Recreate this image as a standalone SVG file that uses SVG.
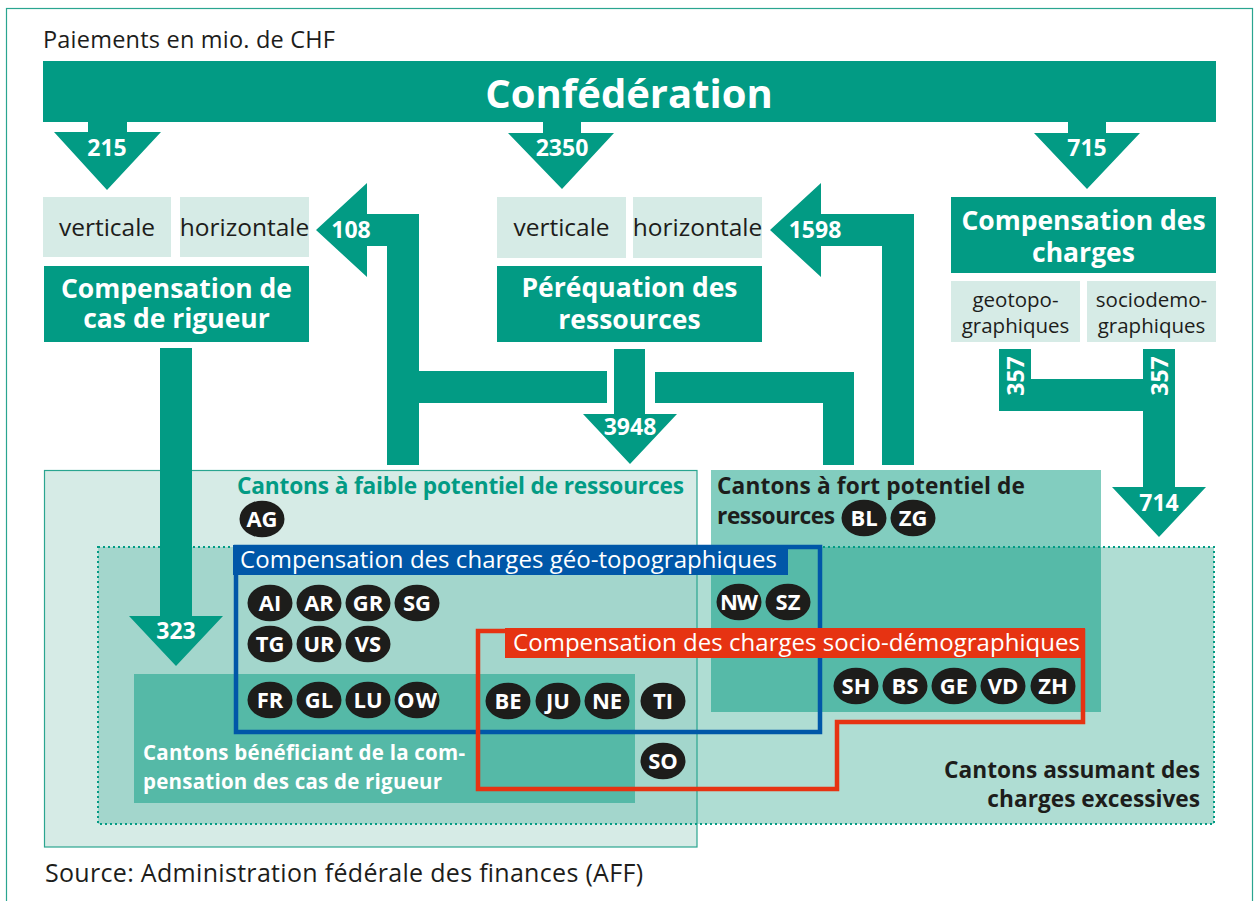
<svg xmlns="http://www.w3.org/2000/svg" width="1259" height="901" viewBox="0 0 1259 901">
<defs>
<style>
text{font-family:"Open Sans","Noto Sans","DejaVu Sans",sans-serif;}
.teal{fill:#029b84;}
.light{fill:#d6ebe6;}
.w{fill:#ffffff;}
.b{font-weight:bold;}
.dk{fill:#1d1d1b;}
.mid{text-anchor:middle;}
.num{font-weight:bold;font-size:23px;fill:#ffffff;text-anchor:middle;}
.box{font-weight:bold;font-size:26.5px;fill:#ffffff;text-anchor:middle;}
.sub{font-size:24.5px;fill:#1d1d1b;text-anchor:middle;}
.sub2{font-size:20.5px;fill:#1d1d1b;text-anchor:middle;}
.cant ellipse{fill:#1d1d1b;}
.cant text{font-weight:bold;font-size:22px;fill:#ffffff;text-anchor:middle;}
.reg{font-weight:bold;font-size:22.7px;}
</style>
</defs>
<rect x="0" y="0" width="1259" height="901" fill="#ffffff"/>
<rect x="6.5" y="8.5" width="1246" height="905" fill="none" stroke="#2aa590" stroke-width="1.2"/>
<text x="43" y="48" font-size="23.5" class="dk" textLength="292">Paiements en mio. de CHF</text>

<!-- regions -->
<g id="regions">
<rect id="faible" x="44" y="470" width="653" height="377" fill="#d6ebe6"/>
<rect id="fort" x="711" y="470" width="390" height="242" fill="#82cdbf"/>
<rect id="excessives" x="98" y="547" width="1116" height="277" fill="#afddd3"/>
<rect x="98" y="547" width="599" height="277" fill="#a3d6cc"/>
<rect x="711" y="547" width="390" height="165" fill="#56baa8"/>
<rect id="rigueur-cantons" x="134" y="674" width="501" height="129" fill="#55b9a7"/>
<rect x="44.5" y="470.5" width="652.5" height="376.5" fill="none" stroke="#2aa590" stroke-width="1.2"/>
<rect x="98" y="547" width="1116" height="277" fill="none" stroke="#029b84" stroke-width="2" stroke-dasharray="2 3"/>
<text class="reg" x="237" y="494" fill="#029b84" textLength="447">Cantons à faible potentiel de ressources</text>
<text class="reg dk" x="717" y="494" textLength="308">Cantons à fort potentiel de</text>
<text class="reg dk" x="717" y="524" textLength="118">ressources</text>
<text class="reg dk" x="1200" y="778" text-anchor="end">Cantons assumant des</text>
<text class="reg dk" x="1200" y="807" text-anchor="end">charges excessives</text>
<text x="143" y="760" font-size="20.5" font-weight="bold" fill="#ffffff" textLength="322">Cantons bénéficiant de la com-</text>
<text x="143" y="789" font-size="20.5" font-weight="bold" fill="#ffffff" textLength="299">pensation des cas de rigueur</text>
</g>

<!-- top nodes -->
<g id="confederation">
<rect class="teal" x="43" y="61" width="1173" height="61"/>
<text class="w b mid" x="629" y="108" font-size="40">Confédération</text>
</g>
<g id="cas-rigueur">
<rect class="light" x="43" y="197" width="128" height="60"/>
<text class="sub" x="107" y="236">verticale</text>
<rect class="light" x="180" y="197" width="129" height="60"/>
<text class="sub" x="244.5" y="236">horizontale</text>
<rect class="teal" x="44" y="266" width="265" height="76"/>
<text class="box" x="176.5" y="298">Compensation de</text>
<text class="box" x="176.5" y="328">cas de rigueur</text>
</g>
<g id="perequation">
<rect class="light" x="497" y="197" width="129" height="61"/>
<text class="sub" x="561.5" y="236">verticale</text>
<rect class="light" x="633" y="197" width="129" height="61"/>
<text class="sub" x="697.5" y="236">horizontale</text>
<rect class="teal" x="497" y="266" width="265" height="76"/>
<text class="box" x="629.5" y="297">Péréquation des</text>
<text class="box" x="629.5" y="329">ressources</text>
</g>
<g id="compensation-charges">
<rect class="teal" x="951" y="197" width="265" height="76"/>
<text class="box" x="1083.5" y="230">Compensation des</text>
<text class="box" x="1083.5" y="262">charges</text>
<rect class="light" x="951" y="281" width="129" height="61"/>
<text class="sub2" x="1015.5" y="307">geotopo-</text>
<text class="sub2" x="1015.5" y="333">graphiques</text>
<rect class="light" x="1087" y="281" width="129" height="61"/>
<text class="sub2" x="1151.5" y="307">sociodemo-</text>
<text class="sub2" x="1151.5" y="333">graphiques</text>
</g>

<!-- connectors -->
<g id="connectors" class="teal">
<polygon points="88,121 127,121 127,132 161,132 107,190 54,132 88,132"/>
<polygon points="543,121 581,121 581,133 614,133 562,189 508,133 543,133"/>
<polygon points="1068,121 1106,121 1106,133 1140,133 1087,189 1034,133 1068,133"/>
<polygon points="160,348 192,348 192,616 223,616 176,666 129,616 160,616"/>
<polygon points="316,230 367,183 367,214 419,214 419,371 607,371 607,403 419,403 419,465 387,465 387,246 367,246 367,277"/>
<polygon points="614,349 645,349 645,414 677,414 630,464 583,414 614,414"/>
<polygon points="655,372 854,372 854,465 823,465 823,403 655,403"/>
<polygon points="770,230 821,183 821,214 914,214 914,465 882,465 882,246 821,246 821,277"/>
<polygon points="999,349 1031,349 1031,379 1143,379 1143,349 1175,349 1175,487 1206,487 1159,537 1112,487 1143,487 1143,411 999,411"/>
<text class="num" x="107" y="156">215</text>
<text class="num" x="562" y="156">2350</text>
<text class="num" x="1087" y="156">715</text>
<text class="num" x="351" y="238">108</text>
<text class="num" x="815" y="238">1598</text>
<text class="num" x="630" y="435">3948</text>
<text class="num" x="176" y="639">323</text>
<text class="num" x="1159" y="511">714</text>
<text class="num" transform="translate(1024,376) rotate(-90)" x="0" y="0">357</text>
<text class="num" transform="translate(1168,376) rotate(-90)" x="0" y="0">357</text>
</g>

<!-- geo-topo box -->
<g id="geotopo">
<rect x="236" y="547" width="584" height="185" fill="none" stroke="#0057a8" stroke-width="4.5"/>
<rect x="233" y="545" width="555" height="30" fill="#0057a8"/>
<text x="240" y="568" font-size="24" fill="#ffffff" textLength="537">Compensation des charges géo-topographiques</text>
</g>
<!-- socio-demo box -->
<g id="sociodemo">
<path d="M478,631 H1083 V722 H837 V789 H478 Z" fill="none" stroke="#e63312" stroke-width="4.5"/>
<rect x="505" y="628" width="580" height="30" fill="#e63312"/>
<text x="513" y="651" font-size="24" fill="#ffffff" textLength="567">Compensation des charges socio-démographiques</text>
</g>

<!-- cantons -->
<g id="cantons" class="cant">
<g id="AG"><ellipse cx="262" cy="519" rx="22.5" ry="18.3"/><text x="262" y="527">AG</text></g>
<g id="BL"><ellipse cx="864" cy="518" rx="22.5" ry="18.3"/><text x="864" y="526">BL</text></g>
<g id="ZG"><ellipse cx="913" cy="518" rx="22.5" ry="18.3"/><text x="913" y="526">ZG</text></g>
<g id="AI"><ellipse cx="270" cy="603" rx="22.5" ry="18.3"/><text x="270" y="611">AI</text></g>
<g id="AR"><ellipse cx="319" cy="603" rx="22.5" ry="18.3"/><text x="319" y="611">AR</text></g>
<g id="GR"><ellipse cx="368" cy="603" rx="22.5" ry="18.3"/><text x="368" y="611">GR</text></g>
<g id="SG"><ellipse cx="417" cy="603" rx="22.5" ry="18.3"/><text x="417" y="611">SG</text></g>
<g id="TG"><ellipse cx="270" cy="644" rx="22.5" ry="18.3"/><text x="270" y="652">TG</text></g>
<g id="UR"><ellipse cx="319" cy="644" rx="22.5" ry="18.3"/><text x="319" y="652">UR</text></g>
<g id="VS"><ellipse cx="368" cy="644" rx="22.5" ry="18.3"/><text x="368" y="652">VS</text></g>
<g id="FR"><ellipse cx="270" cy="700" rx="22.5" ry="18.3"/><text x="270" y="708">FR</text></g>
<g id="GL"><ellipse cx="319" cy="700" rx="22.5" ry="18.3"/><text x="319" y="708">GL</text></g>
<g id="LU"><ellipse cx="368" cy="700" rx="22.5" ry="18.3"/><text x="368" y="708">LU</text></g>
<g id="OW"><ellipse cx="417" cy="700" rx="22.5" ry="18.3"/><text x="417" y="708" textLength="40">OW</text></g>
<g id="BE"><ellipse cx="508" cy="701" rx="22.5" ry="18.3"/><text x="508" y="709">BE</text></g>
<g id="JU"><ellipse cx="558" cy="701" rx="22.5" ry="18.3"/><text x="558" y="709">JU</text></g>
<g id="NE"><ellipse cx="607" cy="701" rx="22.5" ry="18.3"/><text x="607" y="709">NE</text></g>
<g id="TI"><ellipse cx="663" cy="701" rx="22.5" ry="18.3"/><text x="663" y="709">TI</text></g>
<g id="SO"><ellipse cx="663" cy="761" rx="22.5" ry="18.3"/><text x="663" y="769">SO</text></g>
<g id="NW"><ellipse cx="739" cy="602" rx="22.5" ry="18.3"/><text x="739" y="610" textLength="38">NW</text></g>
<g id="SZ"><ellipse cx="788" cy="602" rx="22.5" ry="18.3"/><text x="788" y="610">SZ</text></g>
<g id="SH"><ellipse cx="856" cy="686" rx="22.5" ry="18.3"/><text x="856" y="694">SH</text></g>
<g id="BS"><ellipse cx="905" cy="686" rx="22.5" ry="18.3"/><text x="905" y="694">BS</text></g>
<g id="GE"><ellipse cx="954" cy="686" rx="22.5" ry="18.3"/><text x="954" y="694">GE</text></g>
<g id="VD"><ellipse cx="1003" cy="686" rx="22.5" ry="18.3"/><text x="1003" y="694">VD</text></g>
<g id="ZH"><ellipse cx="1053" cy="686" rx="22.5" ry="18.3"/><text x="1053" y="694">ZH</text></g>
</g>

<text x="45" y="882" font-size="25" class="dk" textLength="598">Source: Administration fédérale des finances (AFF)</text>
</svg>
